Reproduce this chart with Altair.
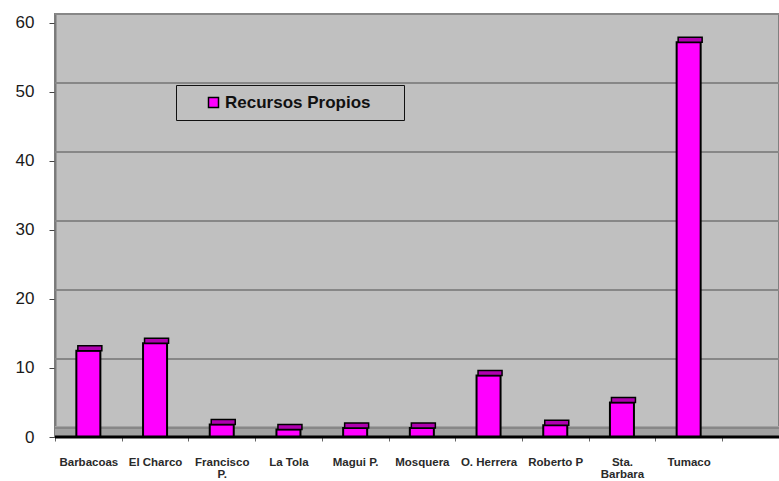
import altair as alt
import pandas as pd

# Municipios y monto de recursos propios
municipios = ["Barbacoas", "El Charco", "Francisco\nP.", "La Tola", "Magui P.",
              "Mosquera", "O. Herrera", "Roberto P", "Sta.\nBarbara", "Tumaco"]
recursos = [12.5, 13.6, 1.8, 1.1, 1.3, 1.3, 8.9, 1.7, 5.0, 57.2]
serie = "Recursos Propios"
ticks_y = [0, 10, 20, 30, 40, 50, 60]

df = pd.DataFrame({"municipio": municipios, "valor": recursos, "serie": serie})
grid_df = pd.DataFrame({"v": ticks_y})
base_df = pd.DataFrame({"v": [0]})

FONT = "Liberation Sans"
Y_MAX = 61.3

x_enc = alt.X(
    "municipio:N",
    sort=municipios,
    scale=alt.Scale(domain=municipios, range=[0, 667], paddingInner=0, paddingOuter=0),
    axis=alt.Axis(
        title=None, labelAngle=0, labelFont=FONT, labelFontSize=11.5,
        labelFontWeight="bold", labelColor="#2a2a2a", labelPadding=15,
        labelExpr="split(datum.label, '\\n')", labelLineHeight=12.5,
        tickBand="extent", tickSize=4, tickColor="#666666", domain=False,
        labelLimit=90,
    ),
)
y_enc = alt.Y(
    "valor:Q",
    scale=alt.Scale(domain=[0, Y_MAX], nice=False, zero=True),
    axis=alt.Axis(
        title=None, values=ticks_y, grid=False, labelFont=FONT, labelFontSize=17,
        labelColor="#1a1a1a", labelPadding=15, tickSize=6, tickColor="#444444",
        domainColor="#7a7a7a", domainWidth=2,
    ),
)

# Back-wall floor band
floor = alt.Chart(base_df).mark_rect(color="#A2A2A2", y2Offset=-11).encode(
    y=alt.datum(0, type="quantitative"), y2=alt.datum(0)
)

# Gridlines drawn on the back wall, shifted up for depth
grid = alt.Chart(grid_df).mark_rule(color="#878787", strokeWidth=2, yOffset=-9).encode(
    y=alt.Y("v:Q")
)

# Front face of each column
bars = alt.Chart(df).mark_bar(
    stroke="black", strokeWidth=2, width=alt.RelativeBandSize(0.36)
).encode(
    x=x_enc,
    y=y_enc,
    color=alt.Color(
        "serie:N",
        scale=alt.Scale(domain=[serie], range=["#FF00FF"]),
        legend=alt.Legend(
            title=None,
            orient="none", legendX=121, legendY=71,
            fillColor="#C0C0C0", strokeColor="#111111", padding=9,
            symbolType="square", symbolSize=100, symbolStrokeColor="black",
            symbolStrokeWidth=1.5, symbolOffset=20, labelOffset=3,
            labelFont=FONT, labelFontSize=17, labelFontWeight="bold",
            labelColor="#111111", labelLimit=300,
            # trailing non-breaking spaces leave room on the right of the box
            labelExpr="datum.label + '\u00a0\u00a0\u00a0\u00a0\u00a0\u200b'",
        ),
    ),
)

# Top face of each column
caps = alt.Chart(df).mark_bar(
    color="#B000B0", stroke="black", strokeWidth=1.5,
    width=alt.RelativeBandSize(0.36), yOffset=-5, y2Offset=0, xOffset=1.5,
).encode(
    x=alt.X("municipio:N", sort=municipios),
    y=alt.Y("valor:Q"),
    y2="valor:Q",
)

# Category axis baseline
baseline = alt.Chart(base_df).mark_rule(color="black", strokeWidth=3).encode(
    y=alt.datum(0, type="quantitative")
)

chart = (
    alt.layer(floor, grid, bars, caps, baseline)
    .properties(
        width=724, height=423,
        padding={"left": 55, "top": 14, "right": 0, "bottom": 44},
        autosize=alt.AutoSizeParams(type="none"),
        background="white",
    )
    .configure_view(fill="#C0C0C0", stroke="#808080", strokeWidth=2)
)

chart.save("out.html", embed_options={"renderer": "svg", "actions": False})
